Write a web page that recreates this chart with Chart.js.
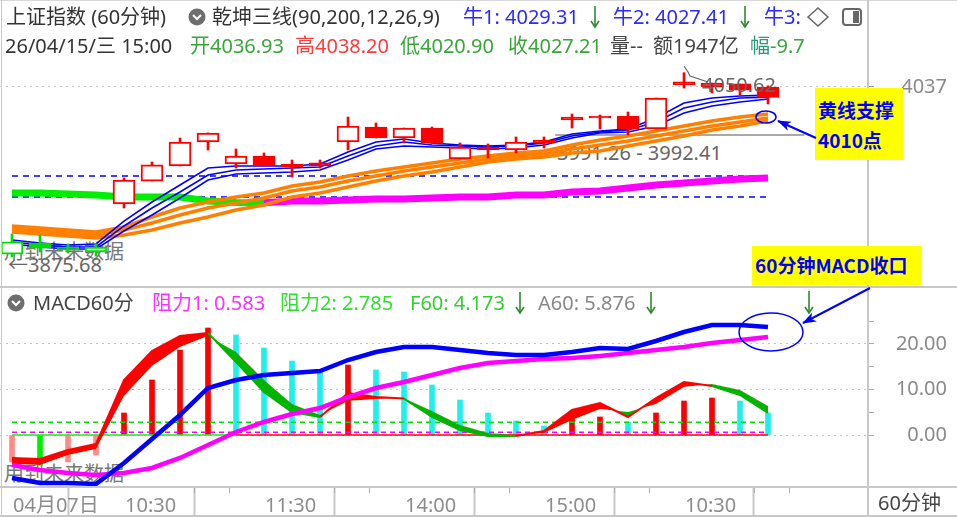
<!DOCTYPE html>
<html><head><meta charset="utf-8">
<script src="https://cdn.jsdelivr.net/npm/chart.js@4.4.1/dist/chart.umd.min.js"></script>
<style>
html,body{margin:0;padding:0;background:#fff;}
#wrap{position:relative;width:957px;height:517px;overflow:hidden;background:#fff;font-family:"Noto Sans","Noto Sans CJK SC",sans-serif;font-size:20px;color:#333;}
.t{position:absolute;white-space:nowrap;line-height:24px;height:24px;z-index:4;}
.under{z-index:1;}
canvas{position:absolute;left:0;z-index:2;}
#cTop{top:0;}
#cMacd{top:287px;}
.ln{position:absolute;background:#c8c8c8;z-index:3;}
.box{position:absolute;background:#ffff00;z-index:5;color:#0000ff;font-weight:bold;font-size:19px;font-family:"Noto Sans CJK SC","Noto Sans",sans-serif;line-height:24px;}
svg{position:absolute;left:0;top:0;z-index:6;}
</style></head>
<body><div id="wrap">
<div class="ln" style="left:0;top:0;width:957px;height:1px;background:#d8d8d8"></div>
<div class="ln" style="left:1px;top:0;width:1px;height:517px"></div>
<div class="ln" style="left:867px;top:0;width:2px;height:517px"></div>
<div class="ln" style="left:0;top:286px;width:957px;height:2px"></div>
<div class="ln" style="left:0;top:486px;width:957px;height:2px"></div>
<div class="ln" style="left:0;top:515px;width:957px;height:2px"></div>

<div class="t" style="left:6px;top:5px;color:#333">上证指数 (60分钟)</div>
<div class="t" style="left:212px;top:5px;color:#333">乾坤三线(90,200,12,26,9)</div>
<div class="t" style="left:463px;top:5px;color:#2a2aff">牛1: 4029.31</div>
<div class="t" style="left:613px;top:5px;color:#2a2aff">牛2: 4027.41</div>
<div class="t" style="left:764px;top:5px;color:#2a2aff">牛3:</div>

<div class="t" style="left:5px;top:34px;color:#333">26/04/15/三 15:00</div>
<div class="t" style="left:190px;top:34px;color:#3aa63a">开4036.93</div>
<div class="t" style="left:295px;top:34px;color:#ff3c3c">高4038.20</div>
<div class="t" style="left:400px;top:34px;color:#3aa63a">低4020.90</div>
<div class="t" style="left:508px;top:34px;color:#3aa63a">收4027.21</div>
<div class="t" style="left:610px;top:34px;color:#444">量--</div>
<div class="t" style="left:653px;top:34px;color:#444">额1947亿</div>
<div class="t" style="left:750px;top:34px;"><span style="color:#2a9a7a">幅</span><span style="color:#3aa63a">-9.7</span></div>

<div class="t" style="left:33px;top:291px;color:#444">MACD60分</div>
<div class="t" style="left:152px;top:291px;color:#ff30ff">阻力1: 0.583</div>
<div class="t" style="left:280px;top:291px;color:#30e030">阻力2: 2.785</div>
<div class="t" style="left:410px;top:291px;color:#30d030">F60: 4.173</div>
<div class="t" style="left:538px;top:291px;color:#888">A60: 5.876</div>

<div class="t" style="left:878px;top:491px;color:#444">60分钟</div>

<div class="t" style="left:702px;top:73px;color:#666">4050.62</div>
<div class="t under" style="left:557px;top:141px;color:#666">3991.26 - 3992.41</div>
<div class="t under" style="left:4px;top:240px;color:#777">用到未来数据</div>
<div class="t under" style="left:8px;top:253px;color:#666">←3875.68</div>
<div class="t under" style="left:4px;top:462px;color:#777">用到未来数据</div>

<div class="box" style="left:815px;top:88px;width:88px;height:72px;">
  <div style="position:absolute;left:3px;top:10px">黄线支撑</div>
  <div style="position:absolute;left:3px;top:40px">4010点</div>
</div>
<div class="box" style="left:752px;top:246px;width:170px;height:39px;">
  <div style="position:absolute;left:3px;top:7px">60分钟MACD收口</div>
</div>

<canvas id="cTop" width="957" height="287"></canvas>
<canvas id="cMacd" width="957" height="230"></canvas>

<svg width="957" height="517" viewBox="0 0 957 517">
  <defs>
    <marker id="ah" viewBox="0 0 14 10" refX="13" refY="5" markerWidth="14" markerHeight="10" markerUnits="userSpaceOnUse" orient="auto">
      <path d="M0,0 L14,5 L0,10 L4,5 z" fill="#0000ff"/>
    </marker>
  </defs>
  <circle cx="197" cy="17" r="8.5" fill="#6e6e6e"/>
  <polyline points="193,15 197,19 201,15" fill="none" stroke="#fff" stroke-width="2"/>
  <circle cx="16" cy="303" r="8.5" fill="#6e6e6e"/>
  <polyline points="12,301 16,305 20,301" fill="none" stroke="#fff" stroke-width="2"/>
  <polygon points="808,17 818,8 828,17 818,26" fill="none" stroke="#666" stroke-width="1.5"/>
  <rect x="843" y="9" width="18" height="16" rx="3" fill="none" stroke="#666" stroke-width="2"/>
  <rect x="853" y="11" width="6" height="12" fill="#666"/>
  <g stroke="#2e8b2e" stroke-width="1.6" fill="none">
    <line x1="595" y1="6" x2="595" y2="27"/><polyline points="591,21 595,27 599,21"/>
    <line x1="745" y1="6" x2="745" y2="27"/><polyline points="741,21 745,27 749,21"/>
    <line x1="520" y1="292" x2="520" y2="313"/><polyline points="516,307 520,313 524,307"/>
    <line x1="651" y1="292" x2="651" y2="313"/><polyline points="647,307 651,313 655,307"/>
    <line x1="809" y1="291" x2="809" y2="313"/><polyline points="805,307 809,313 813,307"/>
  </g>
  <polyline points="684,66 688,72 690,76 708,82" fill="none" stroke="#666" stroke-width="1.2"/>
  <ellipse cx="766" cy="117" rx="10" ry="6" fill="none" stroke="#0000ff" stroke-width="1.5"/>
  <line x1="816" y1="138" x2="778" y2="121" stroke="#0000ff" stroke-width="2" marker-end="url(#ah)"/>
  <ellipse cx="771" cy="332" rx="32" ry="19" fill="none" stroke="#0000ff" stroke-width="1.5"/>
  <line x1="870" y1="288" x2="803" y2="323" stroke="#0000ff" stroke-width="2" marker-end="url(#ah)"/>
</svg>
</div>
<script>
// ---------- data ----------
const candleOpen  = [3878.2,3888.7,3884.9,3880.2,3925.8,3947.6,3961.9,3984.7,3963.8,3971.4,3963.8,3964.8,3984.7,3999.0,3988.5,3998.0,3968.6,3980.0,3977.1,3986.6,4008.5,4009.4,4009.4,3997.1,4041.8,4040.8,4039.9,4036.93];
const candleHigh  = [3897.3,3896.3,3887.8,3887.8,3950.5,3965.7,3988.5,3993.3,3978.1,3974.3,3967.6,3967.6,4008.5,4002.8,3998.0,3999.0,3983.8,3982.8,3989.5,3989.5,4011.3,4010.4,4013.2,4026.5,4050.62,4040.8,4039.9,4038.20];
const candleLow   = [3875.68,3880.2,3879.2,3876.3,3922.0,3947.6,3961.9,3977.1,3960.0,3961.9,3951.4,3960.0,3977.1,3988.5,3983.8,3983.8,3968.6,3969.5,3974.3,3979.0,3998.0,3997.1,3991.4,3997.1,4036.0,4031.3,4029.4,4020.90];
const candleClose = [3889.7,3883.9,3882.1,3884.9,3948.6,3962.9,3984.7,3993.3,3971.4,3961.9,3961.0,3961.9,3999.9,3988.5,3998.0,3983.8,3980.0,3977.1,3984.7,3983.8,4005.6,4007.5,3997.1,4026.5,4038.9,4037.0,4034.1,4027.21];

const bull1 = [3891.6,3888.7,3886.8,3887.8,3909.6,3927.7,3943.8,3960.0,3961.9,3961.9,3961.9,3963.8,3975.2,3984.7,3987.6,3983.8,3981.9,3980.9,3981.9,3984.7,3992.3,3995.2,3997.1,4007.5,4021.8,4026.5,4028.4,4029.31];
const bull2 = [3889.7,3886.8,3884.9,3884.9,3904.9,3922.0,3937.2,3953.3,3958.1,3959.0,3960.0,3961.0,3971.4,3980.9,3984.7,3981.9,3980.9,3980.0,3980.9,3983.8,3990.4,3994.2,3996.1,4003.7,4017.0,4022.7,4026.5,4027.41];
const bull3 = [3887.8,3884.9,3883.0,3883.0,3900.1,3915.3,3931.5,3948.6,3954.3,3955.2,3956.2,3958.1,3967.6,3978.1,3980.9,3980.0,3979.0,3978.1,3979.0,3981.9,3988.5,3993.3,3994.2,3999.9,4012.3,4018.9,4022.7,4025.6];

const yellow1 = [3904.9,3903.0,3901.1,3899.2,3903.9,3913.4,3922.0,3927.7,3932.4,3936.2,3942.9,3946.7,3952.4,3957.2,3961.0,3964.8,3968.6,3971.4,3974.3,3976.2,3981.9,3986.6,3990.4,3995.2,3999.9,4004.7,4008.5,4011.3];
const yellow2 = [3902.0,3900.1,3898.2,3896.3,3901.1,3907.7,3915.3,3922.0,3926.7,3931.5,3938.1,3941.9,3947.6,3952.4,3957.2,3961.0,3964.8,3968.6,3971.4,3973.3,3978.1,3981.9,3985.7,3990.4,3995.2,3999.9,4003.7,4007.5];
const yellow3 = [3899.2,3897.3,3895.4,3893.5,3896.3,3901.1,3907.7,3913.4,3920.1,3924.8,3932.4,3936.2,3941.9,3947.6,3952.4,3956.2,3961.0,3965.7,3968.6,3970.5,3974.3,3976.2,3980.9,3985.7,3990.4,3996.1,3999.9,4004.7];

const longLine = [3936.2,3936.2,3935.3,3934.3,3932.4,3932.4,3932.4,3928.6,3927.3,3927.0,3928.6,3928.6,3929.6,3930.5,3930.5,3931.5,3932.4,3932.4,3934.3,3934.3,3937.2,3938.1,3941.0,3943.8,3945.7,3947.6,3949.5,3950.5];
const LONG_GREEN_UNTIL = 9;
const dashLevels = [3952.4, 3932.4];
const rangeLow = 3991.26, rangeHigh = 3992.41;
const rangeFrom = 19.4, rangeTo = 28.3;
const priceTicks = [4037];

const dif  = [-9.45,-10.55,-10.55,-10.77,-6.15,-0.88,4.40,10.33,12.09,13.19,13.63,14.07,16.48,18.24,19.34,19.34,18.68,18.02,17.58,17.58,18.24,19.12,18.90,20.66,22.64,24.18,24.18,23.74];
const dea  = [-6.59,-7.69,-8.35,-8.79,-8.35,-7.25,-5.05,-2.20,0.66,2.86,4.62,5.93,8.35,10.33,11.65,13.19,14.73,15.82,16.26,16.70,16.92,17.36,18.02,18.68,19.34,20.22,20.88,21.54];
const hist = [-5.93,-6.59,-5.93,-4.40,4.84,12.09,18.68,23.52,21.98,19.12,16.26,13.85,15.38,14.29,13.85,10.99,7.69,4.84,3.08,1.98,3.74,3.96,2.86,4.84,7.47,8.13,7.47,4.84];
const histUp = [1,0,1,1,1,1,1,1,0,0,0,0,1,0,0,0,0,0,0,0,1,1,0,1,1,1,0,0];
const momA = [-5.05,-5.27,-3.30,-1.98,12.09,18.46,21.76,22.42,16.04,9.45,5.05,3.96,9.23,8.35,8.0,3.96,1.10,-0.22,-0.22,0.88,5.49,7.03,3.96,8.13,11.65,10.77,8.79,4.84];
const momB = [-6.37,-6.59,-4.40,-3.08,8.57,15.16,19.34,21.76,18.24,12.09,6.81,4.40,7.47,7.91,8.1,5.27,2.20,0.44,0,0.44,3.30,5.71,5.05,6.81,10.55,11.21,9.89,6.37];
const resist1 = 0.583, resist2 = 2.785;
const ZERO_GREEN_UNTIL = 8;
const macdTicks = [0,5,10,15,20,25];
const macdLabeled = [0,10,20];

const xTickIdx = [0,4,9,14,19,24];
const xTickLabels = ['04月07日','10:30','11:30','14:00','15:00','10:30'];

// ---------- layout constants ----------
const X_MIN = -12/28, X_MAX = 868/28 - 12/28;
const TOP_MIN = 3846.88, TOP_MAX = 4119.70;
const M_MIN = -52/4.55, M_MAX = 148/4.55;
const FONT = {family:'"Noto Sans","Noto Sans CJK SC",sans-serif', size:20};
const RED = '#ff0000', GRN = '#00dd00';
const AXIS_W = 79, RIGHT_PAD = 10;

const pts = arr => arr.map((y,i)=>({x:i,y}));
const last = candleOpen.length - 1;

const cColor = candleOpen.map((_,i)=> i < 4 ? GRN : RED);
const hollow = candleOpen.map((o,i)=> candleClose[i] > o);

const noPad = s => { s.paddingTop = 0; s.paddingBottom = 0; s.paddingLeft = 0; s.paddingRight = 0; };

const common = {
  responsive:false, animation:false, events:[],
  layout:{padding:{left:0, top:0, bottom:0, right:RIGHT_PAD}, autoPadding:false},
  plugins:{legend:{display:false}, tooltip:{enabled:false}},
  elements:{point:{radius:0}, line:{tension:0}}
};

// ---------- top price chart ----------
const topSets = [];
dashLevels.forEach(lv => topSets.push({type:'line', data:[{x:0,y:lv},{x:last,y:lv}], borderColor:'#0000ff', borderWidth:1.5, borderDash:[6,5], order:30}));
topSets.push({type:'line', data:[{x:rangeFrom,y:rangeLow},{x:rangeTo,y:rangeLow}], borderColor:'#8c8c8c', borderWidth:1.5, order:29});
topSets.push({type:'line', data:pts(longLine), borderWidth:7, borderColor:'#ff00ff',
  segment:{borderColor: c => c.p0DataIndex < LONG_GREEN_UNTIL ? '#00ee00' : '#ff00ff'}, order:28});
[yellow3, yellow2, yellow1].forEach(a => topSets.push({type:'line', data:pts(a), borderColor:'#ff8000', borderWidth:3.5, order:27}));
[bull3, bull2, bull1].forEach(a => topSets.push({type:'line', data:pts(a), borderColor:'#0000ff', borderWidth:1.6, order:26}));
topSets.push({type:'bar', data:candleLow.map((l,i)=>({x:i,y:[l,candleHigh[i]]})), backgroundColor:cColor, borderWidth:0,
  barThickness:2, grouped:false, order:2});
topSets.push({type:'bar', data:candleOpen.map((o,i)=>({x:i,y:[o,candleClose[i]]})),
  backgroundColor:cColor.map((c,i)=> hollow[i] ? '#ffffff' : c), borderColor:cColor, borderWidth:2,
  borderSkipped:false, barThickness:22, grouped:false, order:1});

new Chart(document.getElementById('cTop'), {
  type:'line',
  data:{datasets:topSets},
  options:Object.assign({}, common, {
    scales:{
      x:{type:'linear', min:X_MIN, max:X_MAX, display:false, offset:false},
      y:{type:'linear', position:'right', min:TOP_MIN, max:TOP_MAX, offset:false,
        afterFit: s => { s.width = AXIS_W; noPad(s); },
        afterBuildTicks: s => { s.ticks = priceTicks.map(v=>({value:v})); },
        grid:{color:'#c4c4c4', lineWidth:1, tickColor:'#999', tickLength:6, tickWidth:1, drawTicks:true},
        border:{display:false, dash:[2,4]},
        ticks:{color:'#8a8a8a', font:FONT, padding:10, crossAlign:'far', callback:v=>String(v)}
      }
    }
  })
});

// ---------- MACD chart ----------
const mSets = [];
mSets.push({type:'bar', data:pts(hist), barThickness:5, grouped:false, borderWidth:0,
  backgroundColor:hist.map((v,i)=> v < 0 ? (histUp[i] ? '#ff8a8a' : '#00ee00') : (histUp[i] ? '#ff0000' : '#22eeee')), order:30});
mSets.push({type:'line', data:[{x:0,y:0},{x:ZERO_GREEN_UNTIL,y:0},{x:last,y:0}], borderWidth:1.5, borderColor:'#ff0000',
  segment:{borderColor: c => c.p0DataIndex === 0 ? '#00ff00' : '#ff0000'}, order:29});
mSets.push({type:'line', data:[{x:0,y:resist2},{x:last,y:resist2}], borderColor:'#00e000', borderWidth:1.5, borderDash:[5,4], order:28});
mSets.push({type:'line', data:[{x:0,y:resist1},{x:last,y:resist1}], borderColor:'#ff00ff', borderWidth:1.5, borderDash:[5,4], order:28});
const idxB = mSets.length;
mSets.push({type:'line', data:pts(momB), borderWidth:0, borderColor:'rgba(0,0,0,0)', fill:false, order:21});
mSets.push({type:'line', data:pts(momA), borderWidth:2, borderColor:RED,
  fill:{target:idxB, above:'#ff0000', below:'#00b400'},
  segment:{borderColor: c => ((momA[c.p0DataIndex]-momB[c.p0DataIndex]) + (momA[c.p1DataIndex]-momB[c.p1DataIndex])) >= 0 ? '#ff0000' : '#00b400'},
  order:20});
mSets.push({type:'line', data:pts(dea), borderColor:'#ff00ff', borderWidth:4.5, order:3});
mSets.push({type:'line', data:pts(dif), borderColor:'#0000ff', borderWidth:4.5, order:2});

const minorX = {
  id:'minorX',
  afterDraw(chart){
    const xs = chart.scales.x, ctx = chart.ctx;
    ctx.save(); ctx.strokeStyle = '#b0b0b0'; ctx.lineWidth = 1;
    xTickIdx.slice(1).forEach(t => [2.5, 3.75].forEach(f => {
      const v = t + f; if (v > X_MAX) return;
      const px = Math.round(xs.getPixelForValue(v)) + 0.5;
      ctx.beginPath(); ctx.moveTo(px, xs.top); ctx.lineTo(px, xs.top + 6); ctx.stroke();
    }));
    ctx.restore();
  }
};

new Chart(document.getElementById('cMacd'), {
  type:'line',
  data:{datasets:mSets},
  plugins:[minorX],
  options:Object.assign({}, common, {
    scales:{
      x:{type:'linear', position:'bottom', min:X_MIN, max:X_MAX, offset:false,
        afterFit: s => { s.height = 30; noPad(s); },
        afterBuildTicks: s => { s.ticks = xTickIdx.map(v=>({value:v})); },
        grid:{drawOnChartArea:false, drawTicks:true, tickLength:30, tickWidth:2,
              tickColor: c => c.index === 0 ? 'rgba(0,0,0,0)' : '#c8c8c8'},
        border:{display:false},
        ticks:{autoSkip:false, maxRotation:0, minRotation:0, align:'start', labelOffset:1, padding:-23,
               color:'#8c8c8c', font:FONT,
               callback:(v,i)=> xTickLabels[i]}
      },
      y:{type:'linear', position:'right', min:M_MIN, max:M_MAX, offset:false,
        afterFit: s => { s.width = AXIS_W; noPad(s); },
        afterBuildTicks: s => { s.ticks = macdTicks.map(v=>({value:v})); },
        grid:{color: c => (c.tick && macdLabeled.includes(c.tick.value)) ? '#c4c4c4' : 'rgba(0,0,0,0)',
              lineWidth:1, tickColor:'#aaa', tickLength:6, drawTicks:true},
        border:{display:false, dash:[2,4]},
        ticks:{color:'#8a8a8a', font:FONT, padding:10, crossAlign:'far',
               callback:v => macdLabeled.includes(v) ? v.toFixed(2) : ''}
      }
    }
  })
});
</script>
</body></html>
